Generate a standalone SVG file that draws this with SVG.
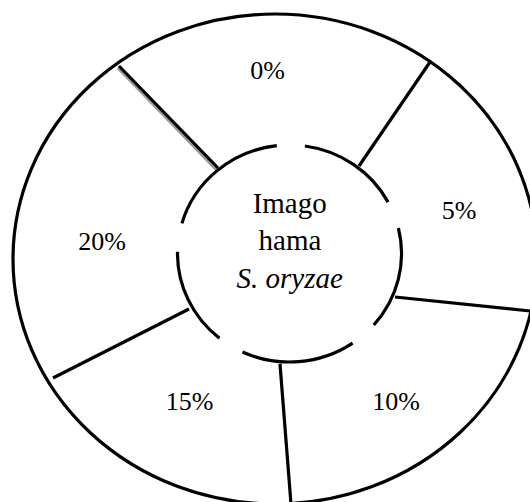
<svg xmlns="http://www.w3.org/2000/svg" width="530" height="502" viewBox="0 0 530 502">
<style>
.ln{fill:none;stroke:#000;stroke-width:3.2;stroke-linecap:butt}
.pct{font-family:"Liberation Serif","Times New Roman",serif;font-size:26px;fill:#000;text-anchor:middle}
.ctr{font-family:"Liberation Serif","Times New Roman",serif;font-size:29px;fill:#000;text-anchor:middle}
</style>
<rect x="0" y="0" width="530" height="502" fill="#fff"/>
<g id="outer-ring">
<ellipse class="ln" cx="275" cy="259" rx="262" ry="245"/>
</g>
<g id="connectors">
<line x1="118" y1="68" x2="216.5" y2="170" stroke="#9a9a9a" stroke-width="3"/>
<line class="ln" x1="119" y1="66" x2="218" y2="168"/>
<line class="ln" x1="430" y1="62" x2="359" y2="166"/>
<line class="ln" x1="395" y1="297" x2="530" y2="311"/>
<line class="ln" x1="280" y1="364" x2="291" y2="504"/>
<line class="ln" x1="189" y1="309" x2="53" y2="378"/>
</g>
<g id="center-node">
<path class="ln" d="M304.9,146 A112,108.5 0 0 1 388.1,202.1"/>
<path class="ln" d="M398.4,228 A112,108.5 0 0 1 373.8,325"/>
<path class="ln" d="M352.6,343.1 A112,108.5 0 0 1 242.5,352"/>
<path class="ln" d="M219.5,338.2 A112,108.5 0 0 1 177.5,251.7"/>
<path class="ln" d="M181.9,223.4 A112,108.5 0 0 1 276.8,145.7"/>
<text class="ctr" x="289.7" y="212.7">Imago</text>
<text class="ctr" x="290" y="250.3">hama</text>
<text class="ctr" x="289.7" y="288.3" font-style="italic">S. oryzae</text>
</g>
<g id="seg-0"><text class="pct" x="267.5" y="79">0%</text></g>
<g id="seg-5"><text class="pct" x="459" y="219">5%</text></g>
<g id="seg-10"><text class="pct" x="396" y="409.5">10%</text></g>
<g id="seg-15"><text class="pct" x="189.6" y="409.5">15%</text></g>
<g id="seg-20"><text class="pct" x="102" y="250">20%</text></g>
</svg>
